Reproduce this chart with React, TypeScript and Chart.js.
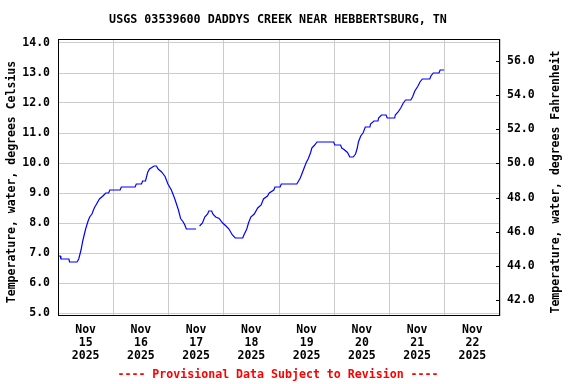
import React, { useEffect, useRef } from 'react';
import { Chart, registerables } from 'chart.js';

Chart.register(...registerables);

const TITLE = 'USGS 03539600 DADDYS CREEK NEAR HEBBERTSBURG, TN';
const LEFT_TITLE = 'Temperature, water, degrees Celsius';
const RIGHT_TITLE = 'Temperature, water, degrees Fahrenheit';
const FOOTER = '---- Provisional Data Subject to Revision ----';

const monthLabel = 'Nov';
const yearLabel = '2025';
const dayLabels = ['15', '16', '17', '18', '19', '20', '21', '22'];

const celsiusTicks = [5, 6, 7, 8, 9, 10, 11, 12, 13, 14];
const fahrenheitTicks = [42, 44, 46, 48, 50, 52, 54, 56];

// hours since Nov 15 2025 00:00
const hours = [
  0.25, 1, 1.25, 4.75, 5, 8.25, 9, 10, 10.75, 12, 13, 13.75, 14.75, 15.75, 16.5, 18, 19.5, 20.75, 22, 22.5,
  27, 27.5, 33.5, 34, 36.25, 36.75, 38, 39, 39.75, 41.75, 42.75, 43.5, 45, 46.5, 47.75, 49.25, 50.75, 52.25,
  53.25, 54.25, 55, 55.75, 60, 61, 61.5, 62.75, 63.75, 65, 65.5, 66.75, 67.25, 68.5, 70, 71.5, 73, 74.25,
  75.75, 77, 80.25, 80.75, 82, 82.75, 83.75, 85.25, 86.75, 88.25, 89.25, 91, 91.75, 93.75, 94.25, 96.5, 97,
  103.75, 104.5, 105.25, 106.75, 107.75, 108.75, 109.75, 110.25, 111.5, 112.5, 119.75, 120.25, 122.75,
  123.25, 124.25, 125.75, 126.75, 128.25, 129.25, 130, 130.5, 131.5, 132.5, 133.5, 135.5, 135.75, 137.25,
  139, 139.25, 140.5, 142.5, 143, 146.25, 146.5, 147.75, 149, 150, 151, 153.25, 154, 155, 156.25, 157.25,
  158.25, 161.5, 162, 163, 165.5, 166, 167.75,
];

const tempC: (number | null)[] = [
  6.9, 6.9, 6.8, 6.8, 6.7, 6.7, 6.8, 7.1, 7.4, 7.8, 8.05, 8.2, 8.3, 8.5, 8.6, 8.8, 8.9, 9.0, 9.0, 9.1,
  9.1, 9.2, 9.2, 9.3, 9.3, 9.4, 9.4, 9.7, 9.8, 9.9, 9.9, 9.8, 9.7, 9.55, 9.3, 9.1, 8.8, 8.45,
  8.15, 8.05, 7.95, 7.8, 7.8, null, 7.9, 8.0, 8.2, 8.3, 8.4, 8.4, 8.3, 8.2, 8.15, 8.0, 7.9, 7.8,
  7.6, 7.5, 7.5, 7.6, 7.8, 8.0, 8.2, 8.3, 8.5, 8.6, 8.8, 8.9, 9.0, 9.1, 9.2, 9.2, 9.3,
  9.3, 9.4, 9.5, 9.8, 10.0, 10.15, 10.35, 10.5, 10.6, 10.7, 10.7, 10.6, 10.6,
  10.5, 10.45, 10.35, 10.2, 10.2, 10.3, 10.5, 10.7, 10.9, 11.0, 11.2, 11.2, 11.3, 11.4,
  11.4, 11.5, 11.6, 11.6, 11.5, 11.5, 11.6, 11.7, 11.85, 12.0, 12.1, 12.1, 12.2, 12.4, 12.55, 12.7,
  12.8, 12.8, 12.9, 13.0, 13.0, 13.1, 13.1,
];

const FONT = '"DejaVu Sans Mono", "Liberation Mono", monospace';

const overlay = {
  id: 'overlay',
  afterDraw(chart: any) {
    const { ctx, chartArea: a, scales } = chart;
    ctx.save();
    ctx.strokeStyle = '#000000';
    ctx.lineWidth = 1;
    ctx.strokeRect(a.left + 0.5, a.top + 0.5, a.right - a.left - 1, a.bottom - a.top - 1);
    const yF = scales.yF;
    yF.ticks.forEach((t: any) => {
      const y = Math.round(yF.getPixelForValue(t.value)) + 0.5;
      ctx.beginPath();
      ctx.moveTo(a.right - 4, y);
      ctx.lineTo(a.right - 1, y);
      ctx.stroke();
    });
    const cx = (a.left + a.right) / 2;
    ctx.textAlign = 'center';
    ctx.textBaseline = 'middle';
    ctx.fillStyle = '#000000';
    ctx.font = `bold 11.7px ${FONT}`;
    ctx.fillText(TITLE, cx - 1, 20);
    ctx.font = `bold 11.6px ${FONT}`;
    ctx.fillStyle = '#ff0000';
    ctx.fillText(FOOTER, cx - 1, 375);
    ctx.fillStyle = '#000000';
    ctx.font = `bold 11.5px ${FONT}`;
    ctx.save();
    ctx.translate(12, 182);
    ctx.rotate(-Math.PI / 2);
    ctx.fillText(LEFT_TITLE, 0, 0);
    ctx.restore();
    ctx.save();
    ctx.translate(556, 182);
    ctx.rotate(-Math.PI / 2);
    ctx.fillText(RIGHT_TITLE, 0, 0);
    ctx.restore();
    ctx.restore();
  },
};

export default function App() {
  const ref = useRef<HTMLCanvasElement>(null);
  useEffect(() => {
    if (!ref.current) return;
    const data = hours.map((h, i) => ({ x: h, y: tempC[i] }));
    const tickFont = { family: FONT, size: 11.5, weight: 'bold' as const };
    const chart = new Chart(ref.current, {
      type: 'line',
      data: {
        datasets: [
          {
            data: data as any,
            borderColor: '#0000ff',
            borderWidth: 1.2,
            pointRadius: 0,
            tension: 0,
            spanGaps: false,
            yAxisID: 'y',
          },
        ],
      },
      options: {
        responsive: false,
        animation: false,
        events: [],
        layout: { padding: { top: 39, left: 0, right: 0, bottom: 0 } },
        plugins: { legend: { display: false }, tooltip: { enabled: false }, title: { display: false } },
        scales: {
          x: {
            type: 'linear',
            min: 0,
            max: dayLabels.length * 24,
            afterBuildTicks: (scale: any) => {
              const t: any[] = [];
              for (let v = 0; v <= dayLabels.length * 24; v += 12) t.push({ value: v });
              scale.ticks = t;
            },
            afterFit: (scale: any) => {
              scale.height = 68;
            },
            border: { display: false },
            grid: {
              color: (c: any) => (c.tick && c.tick.value % 24 === 0 ? '#cccccc' : 'rgba(0,0,0,0)'),
              lineWidth: 1,
              drawTicks: false,
            },
            ticks: {
              autoSkip: false,
              maxRotation: 0,
              minRotation: 0,
              padding: 7.5,
              color: '#000000',
              font: { ...tickFont, lineHeight: '13px' } as any,
              callback: (v: any) => {
                const n = Number(v);
                if (n % 24 === 12) {
                  const d = Math.floor(n / 24);
                  return [monthLabel, dayLabels[d], yearLabel];
                }
                return '';
              },
            },
          },
          y: {
            type: 'linear',
            position: 'left',
            min: 4.9,
            max: 14 + 4 / 30,
            afterBuildTicks: (scale: any) => {
              scale.ticks = celsiusTicks.map((v) => ({ value: v }));
            },
            afterFit: (scale: any) => {
              scale.width = 58;
            },
            border: { display: false },
            grid: { color: '#cccccc', lineWidth: 1, drawTicks: false },
            ticks: {
              padding: 8,
              color: '#000000',
              font: tickFont,
              callback: (v: any) => Number(v).toFixed(1),
            },
          },
          yF: {
            type: 'linear',
            position: 'right',
            min: 56 + 22 / (239 / 14) - 277 / (239 / 14),
            max: 56 + 22 / (239 / 14),
            afterBuildTicks: (scale: any) => {
              scale.ticks = fahrenheitTicks.map((v) => ({ value: v }));
            },
            afterFit: (scale: any) => {
              scale.width = 76;
            },
            border: { display: false },
            grid: { display: false, drawTicks: false },
            ticks: {
              padding: 7,
              color: '#000000',
              font: tickFont,
              callback: (v: any) => Number(v).toFixed(1),
            },
          },
        },
      },
      plugins: [overlay],
    });
    return () => chart.destroy();
  }, []);
  return (
    <div style={{ position: 'fixed', left: 0, top: 0, width: 576, height: 384, background: '#ffffff' }}>
      <canvas ref={ref} width={576} height={384} style={{ width: 576, height: 384 }} />
    </div>
  );
}
